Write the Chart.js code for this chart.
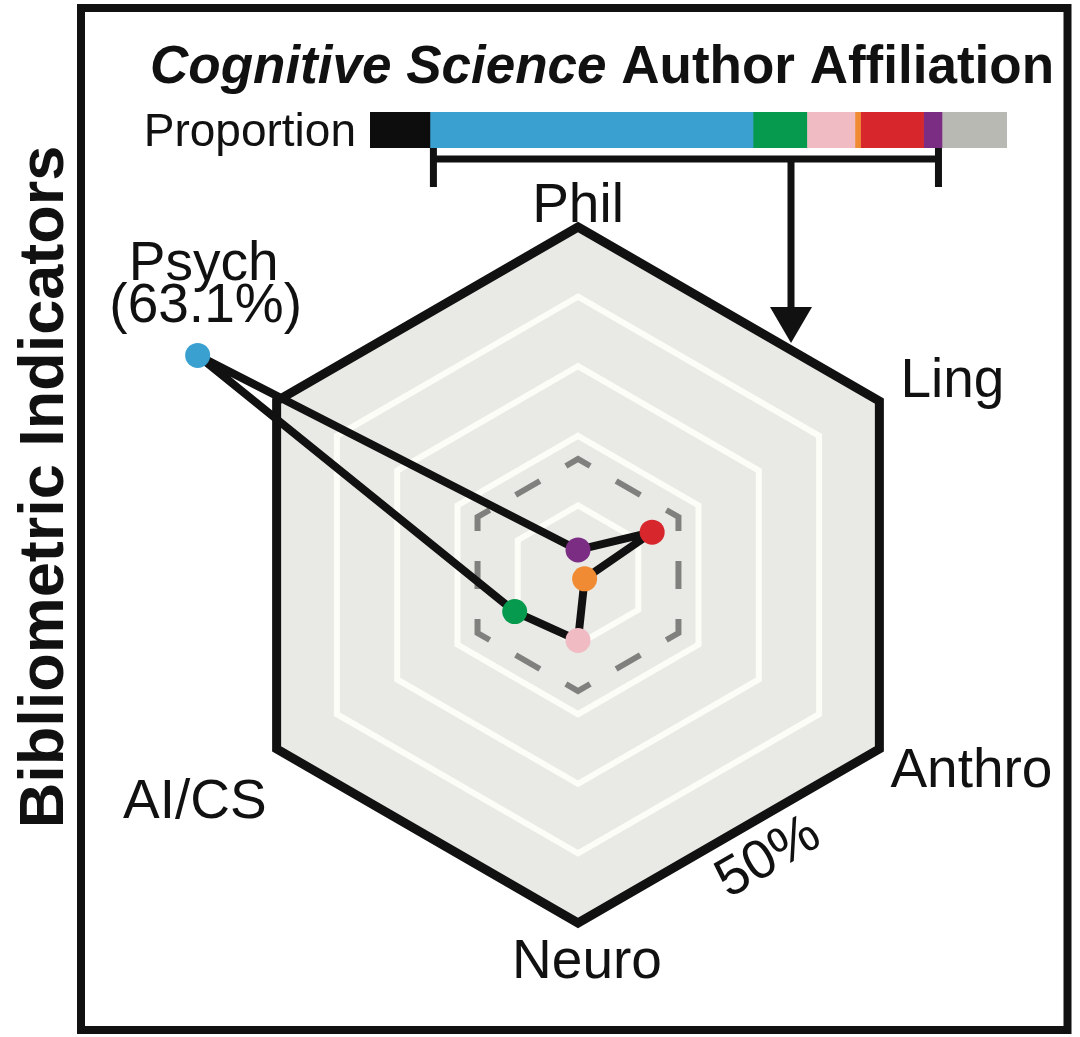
<!DOCTYPE html>
<html>
<head>
<meta charset="utf-8">
<script src="https://cdn.jsdelivr.net/npm/chart.js@4.4.1/dist/chart.umd.min.js"></script>
<style>
  body { margin: 0; background: #fff; }
  #wrap { position: relative; width: 1080px; height: 1037px; }
  #radar { position: absolute; left: 0; top: 0; }
  #bar { position: absolute; left: 370px; top: 112px; }
</style>
</head>
<body>
<div id="wrap">
  <canvas id="radar" width="1080" height="1037"></canvas>
  <canvas id="bar" width="637" height="240"></canvas>
</div>
<script>
// disciplines, clockwise from the top of the radar
const fields = ['Phil', 'Ling', 'Anthro', 'Neuro', 'AI/CS', 'Psych'];
const shares = [3.6, 12.3, 1.1, 9.4, 10.5, 63.1];
const fieldColors = ['#7b2d84', '#d8262d', '#f08b33', '#f1bbc3', '#069a4e', '#3aa0cf'];
const gridTicks = [10, 20, 30, 40, 50];
const uniformShare = 100 / 6; // dashed ring, equal share for 6 fields

// proportion bar, left to right
const barParts = ['None', 'Psych', 'AI/CS', 'Neuro', 'Anthro', 'Ling', 'Phil', 'Other'];
const barValues = [11.7, 63.1, 10.5, 9.4, 1.1, 12.3, 3.6, 12.7];
const barColors = ['#0d0d0d', '#3aa0cf', '#069a4e', '#f1bbc3', '#f08b33', '#d8262d', '#7b2d84', '#b9b9b4'];

const FONT = '"Liberation Sans", Arial, Helvetica, sans-serif';
const INK = '#111111';

const isMax = c => c.tick && c.tick.value === 50;
const isUniform = c => c.tick && Math.abs(c.tick.value - uniformShare) < 1e-6;

// where the axis names go, relative to each outer vertex
const labelPlace = {
    'Phil': [0, -5, 'center'],
    'Ling': [21, -4, 'left'],
    'Anthro': [11, 38, 'left'],
    'Neuro': [9, 55, 'center'],
    'AI/CS': [-10, 69, 'right']
};

const decor = {
    id: 'decor',
    afterDraw(chart) {
        const ctx = chart.ctx;
        const r = chart.scales.r;
        const R = r.getDistanceFromCenterForValue(r.max);
        ctx.save();
        ctx.fillStyle = INK;
        ctx.strokeStyle = INK;

        // frame
        ctx.lineWidth = 8;
        ctx.strokeRect(81, 8, 986.5, 1022);

        // title, first part italic
        const parts = [
            { t: 'Cognitive Science', f: 'italic bold 53px ' + FONT },
            { t: ' Author Affiliation', f: 'bold 53px ' + FONT }
        ];
        let total = 0;
        parts.forEach(p => { ctx.font = p.f; p.w = ctx.measureText(p.t).width; total += p.w; });
        let x = 602 - total / 2;
        ctx.textAlign = 'left';
        ctx.textBaseline = 'alphabetic';
        parts.forEach(p => { ctx.font = p.f; ctx.fillText(p.t, x, 83); x += p.w; });

        // bar caption
        ctx.font = '46px ' + FONT;
        ctx.textAlign = 'right';
        ctx.fillText('Proportion', 356, 146);

        // side title
        ctx.save();
        ctx.translate(63, 487);
        ctx.rotate(-Math.PI / 2);
        ctx.font = 'bold 63px ' + FONT;
        ctx.textAlign = 'center';
        ctx.fillText('Bibliometric Indicators', 0, 0);
        ctx.restore();

        // axis names
        ctx.font = '55px ' + FONT;
        fields.forEach((name, i) => {
            const pl = labelPlace[name];
            if (!pl) return;
            const v = r.getPointPosition(i, R);
            ctx.textAlign = pl[2];
            ctx.fillText(name, v.x + pl[0], v.y + pl[1]);
        });

        // Psych sits outside the hexagon, label it at its point
        const pi = fields.indexOf('Psych');
        const p = r.getPointPosition(pi, r.getDistanceFromCenterForValue(shares[pi]));
        ctx.textAlign = 'center';
        ctx.fillText('Psych', p.x + 6, p.y - 75);
        ctx.fillText('(' + shares[pi] + '%)', p.x + 8, p.y - 33);

        // max value along the lower right edge
        const a = r.getPointPosition(2, R);
        const b = r.getPointPosition(3, R);
        ctx.save();
        ctx.translate((a.x + b.x) / 2 + 40, (a.y + b.y) / 2 + 22);
        ctx.rotate(-Math.PI / 6);
        ctx.textBaseline = 'middle';
        ctx.fillText(r.max + '%', 0, 0);
        ctx.restore();

        ctx.restore();
    }
};

new Chart(document.getElementById('radar'), {
    type: 'radar',
    data: {
        labels: fields,
        datasets: [{
            data: shares,
            borderColor: INK,
            borderWidth: 8,
            borderJoinStyle: 'round',
            fill: false,
            tension: 0,
            clip: false,
            pointRadius: 12.5,
            pointHoverRadius: 12.5,
            pointBorderWidth: 0,
            pointBackgroundColor: fieldColors
        }]
    },
    options: {
        responsive: false,
        animation: false,
        events: [],
        // wide area so the Psych point (outside the 50% ring) is still drawn
        layout: { padding: { left: 180, right: 104, top: 227, bottom: 114 } },
        plugins: { legend: { display: false }, tooltip: { enabled: false } },
        scales: {
            r: {
                min: 0,
                max: 50,
                backgroundColor: '#e9e9e5',
                afterBuildTicks: s => {
                    s.ticks = [0, uniformShare].concat(gridTicks)
                        .sort((m, n) => m - n)
                        .map(v => ({ value: v }));
                },
                ticks: { display: false },
                pointLabels: { display: false },
                angleLines: { display: false },
                grid: {
                    color: c => isMax(c) ? INK : (isUniform(c) ? '#80807e' : '#fdfdf8'),
                    lineWidth: c => isMax(c) ? 9 : 6
                },
                border: {
                    dash: c => isUniform(c) ? [28, 30] : [],
                    dashOffset: c => isUniform(c) ? 14 : 0
                }
            }
        }
    },
    plugins: [decor]
});

// bracket under the six fields and arrow down to the radar
const bracket = {
    id: 'bracket',
    afterDraw(chart) {
        const ctx = chart.ctx;
        const xs = chart.scales.x;
        const start = xs.getPixelForValue(barValues[0]);
        const end = xs.getPixelForValue(barValues.slice(0, 7).reduce((s, v) => s + v, 0));
        const lw = 7;
        ctx.save();
        ctx.strokeStyle = INK;
        ctx.fillStyle = INK;
        ctx.lineWidth = lw;
        ctx.beginPath();
        ctx.moveTo(start + lw / 2, 36);
        ctx.lineTo(start + lw / 2, 75);
        ctx.moveTo(end - lw / 2, 36);
        ctx.lineTo(end - lw / 2, 75);
        ctx.moveTo(start, 47);
        ctx.lineTo(end, 47);
        ctx.moveTo(421, 47);
        ctx.lineTo(421, 197);
        ctx.stroke();
        ctx.beginPath();
        ctx.moveTo(400, 195);
        ctx.lineTo(442, 195);
        ctx.lineTo(421, 231);
        ctx.closePath();
        ctx.fill();
        ctx.restore();
    }
};

new Chart(document.getElementById('bar'), {
    type: 'bar',
    data: {
        labels: ['Proportion'],
        datasets: barParts.map((name, i) => ({
            label: name,
            data: [barValues[i]],
            backgroundColor: barColors[i],
            borderWidth: 0,
            barPercentage: 1,
            categoryPercentage: 1
        }))
    },
    options: {
        indexAxis: 'y',
        responsive: false,
        animation: false,
        events: [],
        layout: { padding: { bottom: 204 } },
        plugins: { legend: { display: false }, tooltip: { enabled: false } },
        scales: {
            x: { stacked: true, display: false, min: 0, max: barValues.reduce((s, v) => s + v, 0) },
            y: { stacked: true, display: false }
        }
    },
    plugins: [bracket]
});
</script>
</body>
</html>
